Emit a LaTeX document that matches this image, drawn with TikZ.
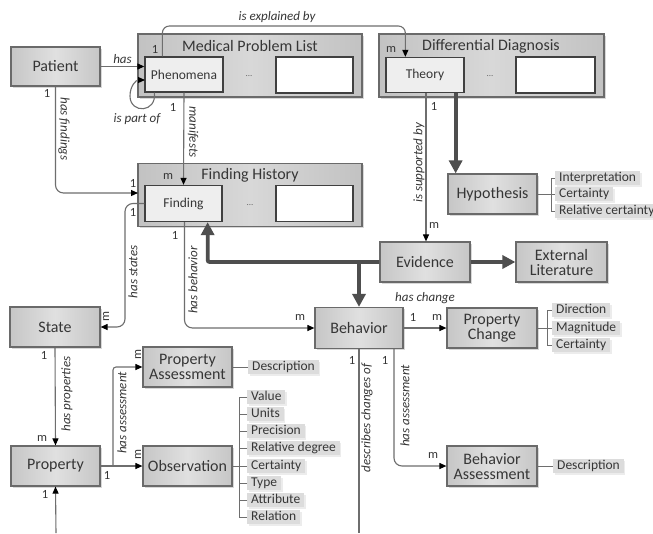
\documentclass[tikz,border=0pt]{standalone}
\usepackage{fontspec}
\setmainfont{Carlito}
\usetikzlibrary{calc,shadows,arrows.meta}

\definecolor{boxedge}{HTML}{6A6A6A}
\definecolor{boxlight}{HTML}{E0E0E0}
\definecolor{boxdark}{HTML}{C6C6C6}
\definecolor{contlight}{HTML}{D8D8D8}
\definecolor{contdark}{HTML}{C2C2C2}
\definecolor{innerfill}{HTML}{EEEEEE}
\definecolor{attrfill}{HTML}{DCDCDC}
\definecolor{linecol}{HTML}{6E6E6E}
\definecolor{thickcol}{HTML}{4E4E4E}
\definecolor{txt}{HTML}{363636}

\tikzset{
  bigfont/.style={font=\fontsize{16}{17}\selectfont},
  midfont/.style={font=\fontsize{13.5}{14.5}\selectfont},
  entity/.style={draw=boxedge, line width=1.2pt, left color=boxdark, right color=boxdark,
    middle color=boxlight, bigfont, text=txt, align=center, inner sep=0pt,
    drop shadow={shadow xshift=1.5pt, shadow yshift=-1.5pt, opacity=0.3}},
  container/.style={draw=boxedge, line width=1.4pt, left color=contdark, right color=contdark,
    middle color=contlight, inner sep=0pt,
    drop shadow={shadow xshift=1.5pt, shadow yshift=-1.5pt, opacity=0.3}},
  contitle/.style={bigfont, text=txt},
  member/.style={draw=black!75, line width=1.3pt, fill=innerfill, midfont, text=txt, inner sep=0pt},
  blank/.style={draw=black!75, line width=1.6pt, fill=white, inner sep=0pt},
  ellip/.style={font=\fontsize{9}{10}\selectfont, text=black!60},
  attr/.style={fill=attrfill, midfont, text=txt, anchor=west, inner xsep=4pt, inner ysep=1pt,
    text height=9.5pt, text depth=2.5pt,
    drop shadow={shadow xshift=1.5pt, shadow yshift=-1.5pt, opacity=0.15}},
  attrline/.style={draw=linecol, line width=1pt},
  conn/.style={draw=linecol, line width=1.1pt, -{Triangle[length=7pt,width=6pt,color=black]}},
  plain/.style={draw=linecol, line width=1.1pt},
  heavy/.style={draw=thickcol, line width=3.8pt, -{Triangle[length=13pt,width=13pt]}},
  rel/.style={font=\fontsize{13}{14}\selectfont\itshape, text=txt, inner sep=1pt},
  card/.style={font=\fontsize{12.5}{13}\selectfont, text=txt, inner sep=0pt},
}

\begin{document}
\begin{tikzpicture}[x=1pt, y=-1pt]
\useasboundingbox (0,0) rectangle (653,533);
\fill[white] (0,0) rectangle (653,533);

% ---------- grouped lists ----------
\node[container, minimum width=224pt, minimum height=63pt] (mpl) at (250,65.5) {};
\node[contitle] at (250,46) {Medical Problem List};
\node[member, minimum width=78pt, minimum height=35pt] (phen) at (184,74.5) {Phenomena};
\node[ellip] at (249,76) {...};
\node[blank, minimum width=77pt, minimum height=36pt] (mplblank) at (314.5,75) {};

\node[container, minimum width=225pt, minimum height=63pt] (dd) at (491.5,65.5) {};
\node[contitle] at (491,46) {Differential Diagnosis};
\node[member, minimum width=78pt, minimum height=35pt] (theory) at (425,75) {Theory};
\node[ellip] at (490,76) {...};
\node[blank, minimum width=79pt, minimum height=36pt] (ddblank) at (555.5,75) {};

\node[container, minimum width=224pt, minimum height=63pt] (fh) at (250,195) {};
\node[contitle] at (250,175) {Finding History};
\node[member, minimum width=77pt, minimum height=36pt] (finding) at (183.5,203.5) {Finding};
\node[ellip] at (250,205) {...};
\node[blank, minimum width=77pt, minimum height=36pt] (fhblank) at (314.5,203.5) {};

% ---------- entities ----------
\node[entity, minimum width=89pt, minimum height=39pt] (patient) at (55.5,66.5) {Patient};
\node[entity, minimum width=89pt, minimum height=40pt] (hyp) at (492.5,194) {Hypothesis};
\node[entity, minimum width=90pt, minimum height=40pt] (evidence) at (425,262) {Evidence};
\node[entity, minimum width=91pt, minimum height=40pt] (extlit) at (561.5,262) {External\\[-2pt]Literature};
\node[entity, minimum width=88pt, minimum height=41pt] (behavior) at (359,328) {Behavior};
\node[entity, minimum width=90pt, minimum height=40pt] (pchange) at (492,328) {Property\\[-2pt]Change};
\node[entity, minimum width=90pt, minimum height=40pt] (state) at (55,327) {State};
\node[entity, minimum width=89pt, minimum height=40pt] (passess) at (187.5,367) {Property\\[-2pt]Assessment};
\node[entity, minimum width=89pt, minimum height=40pt] (obs) at (187.5,466) {Observation};
\node[entity, minimum width=89pt, minimum height=40pt] (property) at (55.5,466) {Property};
\node[entity, minimum width=90pt, minimum height=40pt] (bassess) at (492,466) {Behavior\\[-2pt]Assessment};

% ---------- attribute lists ----------
\node[attr] (hyA) at (555,178) {Interpretation};
\node[attr] (hyB) at (555,194) {Certainty};
\node[attr] (hyC) at (555,211) {Relative certainty};
\draw[attrline] (hyA.west) -- ++(-4,0) |- (hyC.west);
\draw[attrline] (hyp.east) -- (hyB.west);

\node[attr] (pcA) at (552,310) {Direction};
\node[attr] (pcB) at (552,328) {Magnitude};
\node[attr] (pcC) at (552,345) {Certainty};
\draw[attrline] (pcA.west) -- ++(-5,0) |- (pcC.west);
\draw[attrline] (pchange.east) -- (pcB.west);

\node[attr] (paD) at (248,367) {Description};
\draw[attrline] (passess.east) -- (paD.west);

\node[attr] (baD) at (553,466) {Description};
\draw[attrline] (bassess.east) -- (baD.west);

\foreach \name/\txt/\yy in {ob1/Value/397, ob2/Units/414, ob3/Precision/431,
    ob4/Relative degree/448, ob5/Certainty/466, ob6/Type/483, ob7/Attribute/500, ob8/Relation/517}
  \node[attr] (\name) at (247,\yy) {\txt};
\draw[attrline] (ob1.west) -- ++(-8,0) |- (ob8.west);
\foreach \name in {ob2,ob3,ob4,ob6,ob7}
  \draw[attrline] (\name.west) -- ++(-8,0);
\draw[attrline] (obs.east) -- (ob5.west);

% ---------- helper points ----------
\coordinate (fhin) at (138,193);
\coordinate (loopin) at (145,80);
\coordinate (expl) at (280,26);
\coordinate (stturn) at (125,327);
\coordinate (pasplit) at (113,466);
\coordinate (dcend) at (359,533);
\coordinate (propbase) at (56,533);

% ---------- thin relations ----------
\draw[conn] (patient.east) -- (patient.east -| phen.west)
  node[rel, midway, above=1pt] {has};
\draw[conn, rounded corners=8] (patient.south) |- (fhin);
\draw[conn] ($(phen.south west)+(10,0)$) .. controls (157,113) and (130,114) .. (130,96)
  .. controls (130,86) and (136,80) .. (loopin);
\draw[conn] (phen.south) -- (finding.north);
\draw[conn, rounded corners=7] ($(phen.north west)+(18,0)$) |- (expl) -| ($(theory.north west)+(20,0)$);
\draw[conn] ($(theory.south)+(1,0)$) -- ($(evidence.north)+(1,0)$);
\draw[conn, rounded corners=8] (finding.west) -| (stturn) -- (state.east);
\draw[conn, rounded corners=8] ($(finding.south)+(1,0)$) |- (behavior.west);
\draw[conn] (behavior.east) -- (pchange.west);
\draw[plain] (behavior.south) -- (dcend);
\draw[conn, rounded corners=8] ($(behavior.south)+(35,0)$) |- (bassess.west);
\draw[conn] (state.south) -- (property.north);
\draw[conn] (property.east) -- (obs.west);
\draw[conn, rounded corners=3] (pasplit) |- (passess.west);
\draw[conn] (propbase) -- (property.south);

% ---------- heavy relations ----------
\coordinate (thy) at ($(theory.south east)+(-9,0)$);
\draw[heavy] (thy) -- (thy |- hyp.north);
\draw[heavy, rounded corners=2] (evidence.west) -| ($(finding.south east)+(-15,0)$);
\draw[heavy] (behavior.north |- evidence.west) -- (behavior.north);
\draw[heavy] (evidence.east) -- (extlit.west);

% ---------- relation names ----------
\node[rel] at (137,119) {is part of};
\node[rel] at (277,17) {is explained by};
\node[rel, rotate=-90] at (64,129) {has findings};
\node[rel, rotate=-90] at (193,132) {manifests};
\node[rel, rotate=90] at (419,163) {is supported by};
\node[rel, rotate=90] at (133,272) {has states};
\node[rel, rotate=90] at (193,280) {has behavior};
\node[rel] at (425,298) {has change};
\node[rel, rotate=90] at (67,394) {has properties};
\node[rel, rotate=90] at (122,413) {has assessment};
\node[rel, rotate=90] at (367,418) {describes changes of};
\node[rel, rotate=90] at (405,406) {has assessment};

% ---------- cardinalities ----------
\node[card] at (47,93) {1};
\node[card] at (133,183) {1};
\node[card] at (133,212) {1};
\node[card] at (173,107) {1};
\node[card] at (168,176) {m};
\node[card] at (155,49) {1};
\node[card] at (391,49) {m};
\node[card] at (434,106) {1};
\node[card] at (434,225) {m};
\node[card] at (175,235) {1};
\node[card] at (300,317) {m};
\node[card, rotate=90] at (106,317) {m};
\node[card] at (413,317) {1};
\node[card] at (437,317) {m};
\node[card] at (352,360) {1};
\node[card] at (385,360) {1};
\node[card] at (433,455) {m};
\node[card] at (44,355) {1};
\node[card] at (42,438) {m};
\node[card] at (107,475) {1};
\node[card, rotate=90] at (138,355) {m};
\node[card, rotate=90] at (138,455) {m};
\node[card] at (45,494) {1};
\end{tikzpicture}
\end{document}
